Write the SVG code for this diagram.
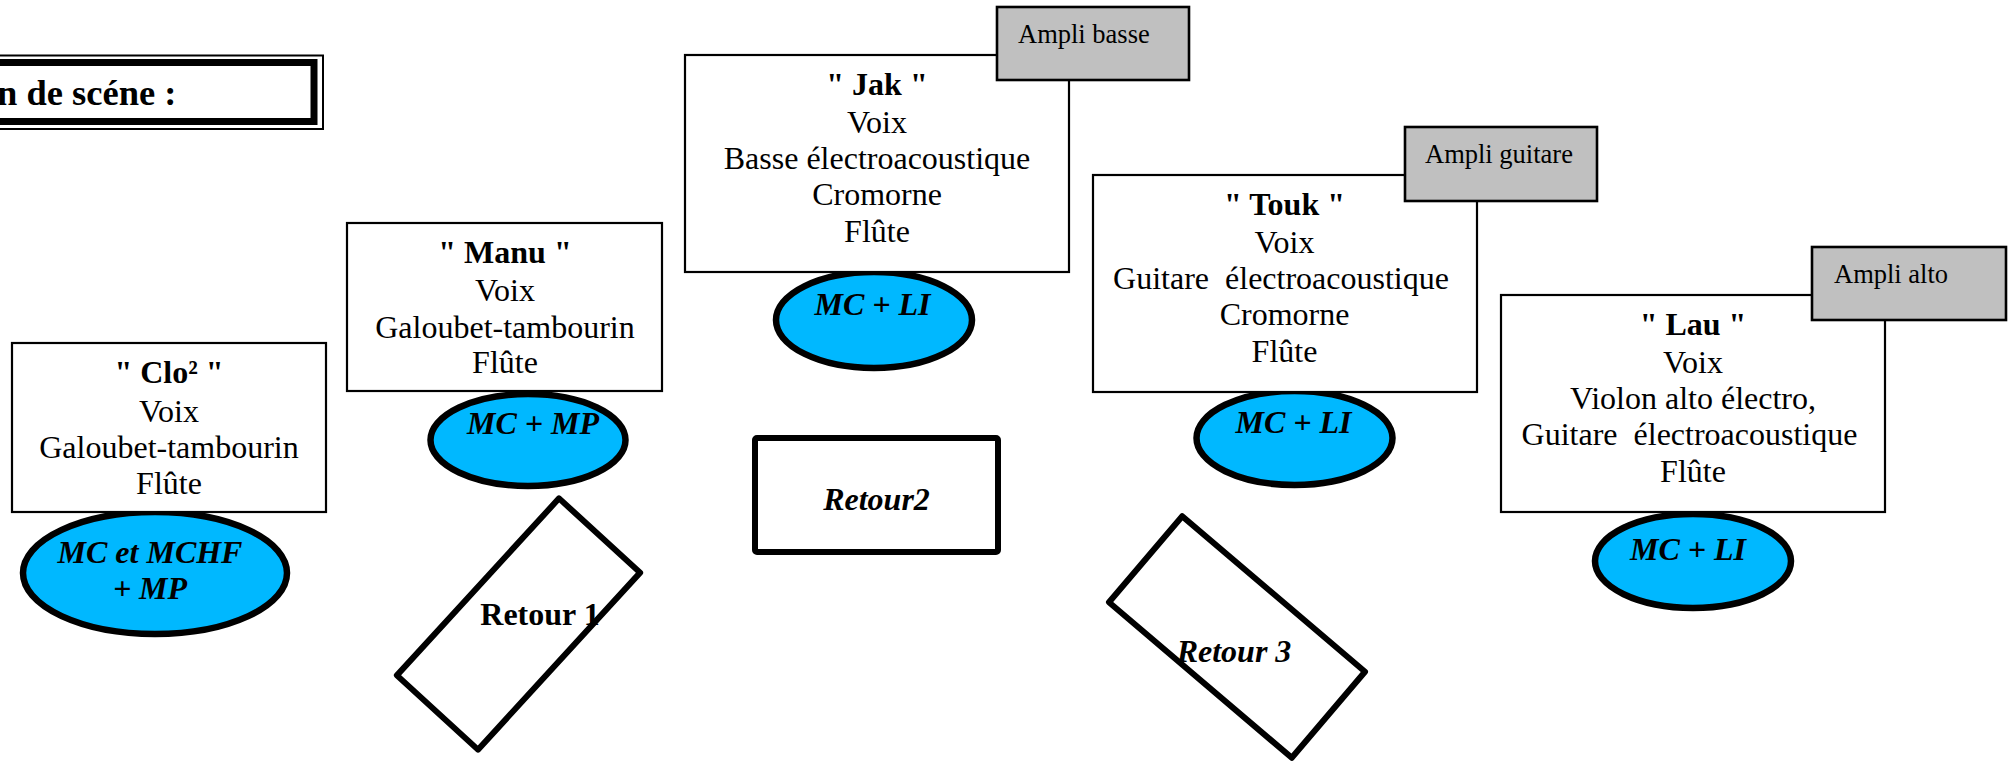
<svg xmlns="http://www.w3.org/2000/svg" width="2013" height="763" viewBox="0 0 2013 763">
<style>
text{font-family:"Liberation Serif","Times New Roman",serif;fill:#000;white-space:pre}
.t{font-size:32px;text-anchor:middle}
.b{font-weight:bold}
.bi{font-weight:bold;font-style:italic}
.box{fill:#fff;stroke:#000;stroke-width:2.2}
.amp{fill:#c0c0c0;stroke:#000;stroke-width:2.6}
.amt{font-size:26.5px}
.mic{fill:#00b8ff;stroke:#000;stroke-width:6.5}
.ret{fill:#fff;stroke:#000;stroke-width:6;stroke-linejoin:round}
</style>
<rect width="2013" height="763" fill="#fff"/>

<g id="title">
<rect x="-20" y="55.5" width="343" height="73.5" fill="none" stroke="#000" stroke-width="2"/>
<rect x="-20" y="62.5" width="334" height="59" fill="none" stroke="#000" stroke-width="7"/>
<text x="-3" y="105" style="font-size:36.5px;font-weight:bold">n de scéne :</text>
</g>

<g id="mic-clo">
<ellipse class="mic" cx="155" cy="573" rx="132" ry="61"/>
<text class="t bi" x="150" y="563">MC et MCHF</text>
<text class="t bi" x="150" y="599">+ MP</text>
</g>
<g id="mic-manu">
<ellipse class="mic" cx="528" cy="440" rx="97.5" ry="46"/>
<text class="t bi" x="533" y="434">MC + MP</text>
</g>
<g id="mic-jak">
<ellipse class="mic" cx="874" cy="320" rx="98" ry="48"/>
<text class="t bi" x="872.5" y="315">MC + LI</text>
</g>
<g id="mic-touk">
<ellipse class="mic" cx="1294.5" cy="438" rx="98" ry="47"/>
<text class="t bi" x="1293.5" y="433">MC + LI</text>
</g>
<g id="mic-lau">
<ellipse class="mic" cx="1693" cy="561" rx="98" ry="47"/>
<text class="t bi" x="1688" y="560">MC + LI</text>
</g>

<g id="clo">
<rect class="box" x="12" y="343" width="314" height="169"/>
<text class="t b" x="169" y="383">" Clo² "</text>
<text class="t" x="169" y="422">Voix</text>
<text class="t" x="169" y="458">Galoubet-tambourin</text>
<text class="t" x="169" y="494">Flûte</text>
</g>

<g id="manu">
<rect class="box" x="347" y="223" width="315" height="168"/>
<text class="t b" x="505" y="263">" Manu "</text>
<text class="t" x="505" y="301">Voix</text>
<text class="t" x="505" y="338">Galoubet-tambourin</text>
<text class="t" x="505" y="373">Flûte</text>
</g>

<g id="jak">
<rect class="box" x="685" y="55" width="384" height="217"/>
<text class="t b" x="877" y="95">" Jak "</text>
<text class="t" x="877" y="133">Voix</text>
<text class="t" x="877" y="169">Basse électroacoustique</text>
<text class="t" x="877" y="205">Cromorne</text>
<text class="t" x="877" y="242">Flûte</text>
</g>
<g id="ampli-basse">
<rect class="amp" x="997" y="7" width="192" height="73"/>
<text class="amt" x="1018" y="43">Ampli basse</text>
</g>

<g id="touk">
<rect class="box" x="1093" y="175" width="384" height="217"/>
<text class="t b" x="1284.5" y="215">" Touk "</text>
<text class="t" x="1284.5" y="253">Voix</text>
<text class="t" x="1281" y="289">Guitare&#160; électroacoustique</text>
<text class="t" x="1284.5" y="325">Cromorne</text>
<text class="t" x="1284.5" y="362">Flûte</text>
</g>
<g id="ampli-guitare">
<rect class="amp" x="1405" y="127" width="192" height="74"/>
<text class="amt" x="1425" y="163">Ampli guitare</text>
</g>

<g id="lau">
<rect class="box" x="1501" y="295" width="384" height="217"/>
<text class="t b" x="1693" y="335">" Lau "</text>
<text class="t" x="1693" y="373">Voix</text>
<text class="t" x="1693" y="409">Violon alto électro,</text>
<text class="t" x="1689.5" y="445">Guitare&#160; électroacoustique</text>
<text class="t" x="1693" y="482">Flûte</text>
</g>
<g id="ampli-alto">
<rect class="amp" x="1812" y="247" width="194" height="73"/>
<text class="amt" x="1834" y="283">Ampli alto</text>
</g>

<g id="retour1">
<rect class="ret" x="-55" y="-120" width="110" height="240" transform="translate(518.5 624) rotate(42.5)"/>
<text class="t b" x="540" y="625">Retour 1</text>
</g>

<g id="retour2">
<rect class="ret" x="755" y="438" width="243" height="114" rx="2"/>
<text class="t bi" x="876.5" y="510">Retour2</text>
</g>

<g id="retour3">
<rect class="ret" x="-120" y="-56.5" width="240" height="113" transform="translate(1237 637) rotate(40.4)"/>
<text class="t bi" x="1234" y="662">Retour 3</text>
</g>

<g id="connectors"/>
</svg>
